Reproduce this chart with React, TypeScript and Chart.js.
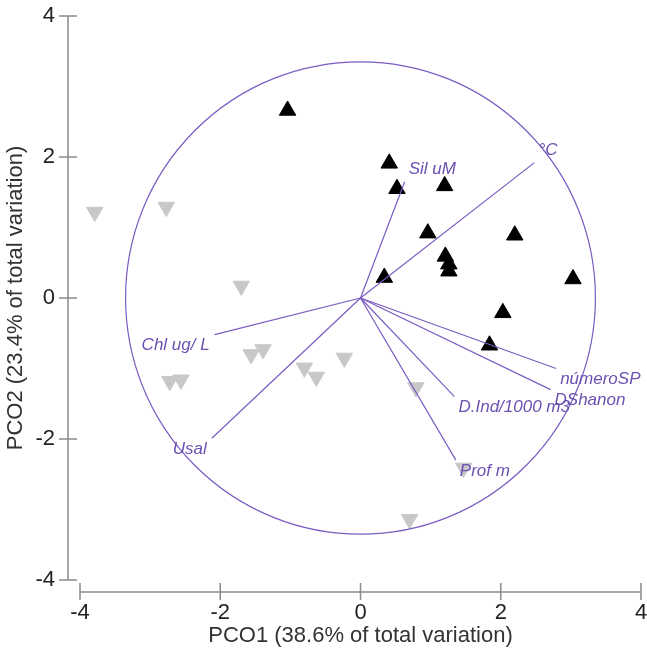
import { useEffect, useRef } from "react";
import { Chart, registerables } from "chart.js";

Chart.register(...registerables);

// Samples (black up-triangles)
const blackX = [-1.04, 0.41, 0.52, 1.2, 0.96, 2.2, 1.21, 1.26, 1.26, 0.34, 3.03, 2.03, 1.84];
const blackY = [2.66, 1.91, 1.55, 1.59, 0.92, 0.89, 0.59, 0.48, 0.38, 0.29, 0.27, -0.21, -0.67];

// Samples (grey down-triangles)
const greyX = [-3.79, -2.77, -1.7, -1.56, -1.39, -0.23, -0.8, -0.63, -2.72, -2.56, 0.79, 1.47, 0.7];
const greyY = [1.22, 1.29, 0.17, -0.8, -0.73, -0.85, -0.99, -1.12, -1.18, -1.16, -1.27, -2.41, -3.14];

// Vector overlay
const vectorLabels = ["°C", "Sil uM", "Chl ug/ L", "Usal", "númeroSP", "DShanon", "D.Ind/1000 m3", "Prof m"];
const vectorX = [2.48, 0.63, -2.08, -2.12, 2.79, 2.71, 1.34, 1.36];
const vectorY = [1.92, 1.65, -0.52, -1.99, -1.0, -1.3, -1.4, -2.3];
const circleRadius = 3.35;

// Axes
const axisTicks = [-4, -2, 0, 2, 4];
const xTitle = "PCO1 (38.6% of total variation)";
const yTitle = "PCO2 (23.4% of total variation)";

const PURPLE = "#7a5cc2";
const LABEL_PURPLE = "#6c50b2";
const FONT = "'Liberation Sans', Arial, sans-serif";

const decorPlugin = {
  id: "pcoDecor",
  beforeDatasetsDraw(chart: any) {
    const { ctx, chartArea: ca } = chart;
    const xs = chart.scales.x;
    const ys = chart.scales.y;
    const axX = ca.left - 12;
    const axY = ca.bottom + 12;
    ctx.save();
    ctx.strokeStyle = "#8a8a8a";
    ctx.lineWidth = 1.5;
    ctx.beginPath();
    ctx.moveTo(axX, ys.getPixelForValue(axisTicks[axisTicks.length - 1]));
    ctx.lineTo(axX, ys.getPixelForValue(axisTicks[0]));
    for (const t of axisTicks) {
      const py = ys.getPixelForValue(t);
      ctx.moveTo(axX - 9, py);
      ctx.lineTo(axX + 9, py);
    }
    ctx.moveTo(xs.getPixelForValue(axisTicks[0]), axY);
    ctx.lineTo(xs.getPixelForValue(axisTicks[axisTicks.length - 1]), axY);
    for (const t of axisTicks) {
      const px = xs.getPixelForValue(t);
      ctx.moveTo(px, axY - 9);
      ctx.lineTo(px, axY + 8);
    }
    ctx.stroke();
    ctx.restore();
  },
  afterDatasetsDraw(chart: any) {
    const { ctx } = chart;
    const xs = chart.scales.x;
    const ys = chart.scales.y;
    const cx = xs.getPixelForValue(0);
    const cy = ys.getPixelForValue(0);
    const rx = Math.abs(xs.getPixelForValue(circleRadius) - cx);
    const ry = Math.abs(ys.getPixelForValue(circleRadius) - cy);
    ctx.save();
    ctx.strokeStyle = PURPLE;
    ctx.lineWidth = 1.2;
    ctx.beginPath();
    ctx.ellipse(cx, cy, rx, ry, 0, 0, Math.PI * 2);
    ctx.stroke();

    ctx.fillStyle = LABEL_PURPLE;
    ctx.font = `italic 17px ${FONT}`;
    ctx.textBaseline = "middle";
    vectorLabels.forEach((lab, i) => {
      const px = xs.getPixelForValue(vectorX[i]);
      const py = ys.getPixelForValue(vectorY[i]);
      const right = vectorX[i] >= 0;
      ctx.textAlign = right ? "left" : "right";
      const dx = right ? 4 : -5;
      const dy = vectorY[i] >= 0 ? -12 : 11;
      ctx.fillText(lab, px + dx, py + dy);
    });
    ctx.restore();
  },
};

const zeroPadding = (s: any) => {
  s.paddingTop = 0;
  s.paddingBottom = 0;
  s.paddingLeft = 0;
  s.paddingRight = 0;
};

export default function App() {
  const ref = useRef<HTMLCanvasElement | null>(null);

  useEffect(() => {
    document.body.style.margin = "0";
    const canvas = ref.current;
    if (!canvas) return;

    const vectorSets = vectorLabels.map((lab, i) => ({
      label: lab,
      type: "scatter" as const,
      data: [
        { x: 0, y: 0 },
        { x: vectorX[i], y: vectorY[i] },
      ],
      showLine: true,
      borderColor: PURPLE,
      borderWidth: 1.2,
      pointRadius: 0,
      fill: false,
      order: 1,
    }));

    const chart = new Chart(canvas, {
      type: "scatter",
      data: {
        datasets: [
          {
            label: "grey",
            data: greyX.map((x, i) => ({ x, y: greyY[i] })),
            pointStyle: "triangle",
            rotation: 180,
            pointRadius: 9.5,
            backgroundColor: "#c8c8c8",
            borderColor: "#c8c8c8",
            borderWidth: 1,
            order: 3,
          },
          {
            label: "black",
            data: blackX.map((x, i) => ({ x, y: blackY[i] })),
            pointStyle: "triangle",
            pointRadius: 9.5,
            backgroundColor: "#000000",
            borderColor: "#000000",
            borderWidth: 1,
            order: 2,
          },
          ...vectorSets,
        ] as any,
      },
      options: {
        animation: false,
        responsive: false,
        devicePixelRatio: 1,
        events: [],
        layout: { autoPadding: false, padding: { top: 16, right: 6, left: 0, bottom: 0 } },
        plugins: { legend: { display: false }, tooltip: { enabled: false } },
        scales: {
          x: {
            type: "linear",
            min: -4,
            max: 4,
            afterFit: (s: any) => {
              s.height = 75;
              zeroPadding(s);
            },
            afterBuildTicks: (s: any) => {
              s.ticks = axisTicks.map((v) => ({ value: v }));
            },
            ticks: {
              font: { size: 22, family: FONT },
              color: "#222",
              padding: 20,
              maxRotation: 0,
            },
            grid: { display: false, drawTicks: false },
            border: { display: false },
            title: {
              display: true,
              text: xTitle,
              font: { size: 22, family: FONT },
              color: "#333",
              padding: { top: 3, bottom: 6 },
            },
          },
          y: {
            type: "linear",
            min: -4,
            max: 4,
            afterFit: (s: any) => {
              s.width = 80;
              zeroPadding(s);
            },
            afterBuildTicks: (s: any) => {
              s.ticks = axisTicks.map((v) => ({ value: v }));
            },
            ticks: {
              font: { size: 22, family: FONT },
              color: "#222",
              padding: 25,
            },
            grid: { display: false, drawTicks: false },
            border: { display: false },
            title: {
              display: true,
              text: yTitle,
              font: { size: 22, family: FONT },
              color: "#333",
              padding: { top: 3, bottom: 3 },
            },
          },
        },
      },
      plugins: [decorPlugin],
    });

    return () => chart.destroy();
  }, []);

  return (
    <canvas
      ref={ref}
      width={647}
      height={655}
      style={{ display: "block", width: "647px", height: "655px" }}
    />
  );
}
